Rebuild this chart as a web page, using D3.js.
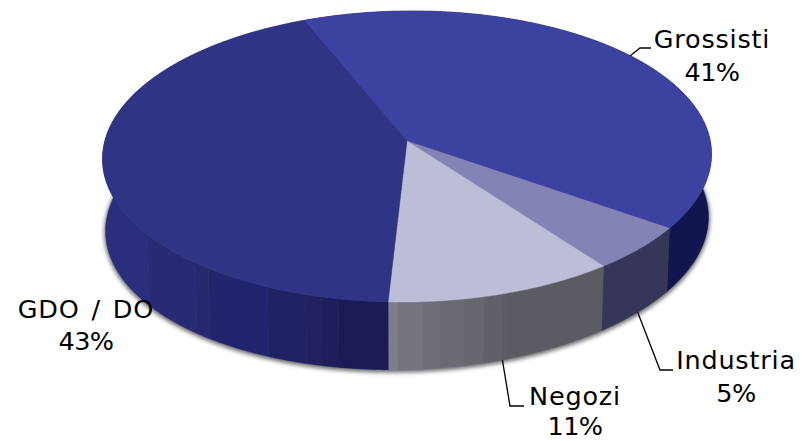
<!DOCTYPE html>
<html>
<head>
<meta charset="utf-8">
<script src="https://cdn.jsdelivr.net/npm/d3@7"></script>
<style>html,body{margin:0;padding:0;background:#fff}svg{display:block}</style>
</head>
<body>
<svg id="chart" width="807" height="441"></svg>
<script>
const categories = ["Grossisti", "Industria", "Negozi", "GDO / DO"];
const shares = [41, 5, 11, 43];
const topColours = ["#3c42a0", "#8383b6", "#bcbdd6", "#2f3484"];
const wallBreaks = [[], [], [162.5,163.4,166.8,170.3,174.4,177.3,181.5], [191.7,194.7,197.5,204.6,216.9,220,233.4]];
const wallColours = [["#12164f"], ["#363658"],
  ["#5b5b63","#5c5c66","#60606b","#66666f","#6a6a74","#6f6f7b","#757580","#7e7e8a"],
  ["#1a1a56","#1e1e5c","#20215e","#202264","#21256e","#27296f","#282b74","#2a2e7c"]];

const svg = d3.select("#chart");
const rad = Math.PI / 180;
const cx = 407, apexY = 141, A = 302.8, B = 143.9, k = 0.1065;
const topShear = -0.008, botShear = -0.0233;
const wallDX = 0.99, wallY = 208.5;

const project = t => {
  const u = Math.sin(t), v = -Math.cos(t), w = 1 - k * v;
  return [A * u / w, B * v / w];
};
const topPt = t => { const [x, y] = project(t); return [cx + x, apexY + y + topShear * x]; };
const botPt = t => { const [x, y] = project(t); return [cx + wallDX * x, wallY + y + botShear * x]; };
const arcAngles = (a, b) => {
  const n = Math.max(2, Math.ceil(Math.abs(b - a) / (0.5 * rad)));
  return d3.range(n + 1).map(i => a + (b - a) * i / n);
};
const line = d3.line();

const pie = d3.pie().sort(null).value(d => d)
  .startAngle(-22 * rad).endAngle(338 * rad);
const arcs = pie(shares);

const defs = svg.append("defs");
const blur = defs.append("filter").attr("id", "soft")
  .attr("x", "-5%").attr("y", "-5%").attr("width", "110%").attr("height", "115%");
blur.append("feGaussianBlur").attr("stdDeviation", 2);

// drop shadow under the whole cake
svg.append("path")
  .attr("d", line(arcAngles(0, 360 * rad).map(botPt)) + "Z")
  .attr("fill", "#444").attr("stroke", "#444").attr("stroke-width", 2.5).attr("opacity", 0.8)
  .attr("transform", "translate(0,1.5)")
  .attr("filter", "url(#soft)");

// side walls
const walls = svg.append("g");
arcs.forEach((d, i) => {
  const breaks = wallBreaks[i];
  const shade = d3.scaleThreshold().domain(breaks).range(wallColours[i]);
  const edges = [d.startAngle, ...breaks.map(b => b * rad), d.endAngle];
  d3.pairs(edges).forEach(([a, b]) => {
    const pts = arcAngles(a, b);
    const c = shade((a + b) / 2 / rad);
    walls.append("path")
      .attr("d", line([...pts.map(topPt), ...pts.slice().reverse().map(botPt)]) + "Z")
      .attr("fill", c).attr("stroke", c).attr("stroke-width", 0.4);
  });
});

// top face
svg.append("g").selectAll("path").data(arcs).join("path")
  .attr("d", d => line([[cx, apexY], ...arcAngles(d.startAngle, d.endAngle).map(topPt)]) + "Z")
  .attr("fill", (d, i) => topColours[i])
  .attr("stroke", (d, i) => topColours[i]).attr("stroke-width", 0.4);

// labels and leaders
const midAngle = d => (d.startAngle + d.endAngle) / 2;
const labelLayout = [
  { x: 712, y: 48, py: 80.5, rim: topPt, elbow: [640, 48], end: [651, 48] },
  { x: 736, y: 369, py: 402, rim: botPt, elbow: [660, 370], end: [673, 370] },
  { x: 575, y: 405, py: 435, rim: botPt, elbow: [510, 406], end: [524, 406] },
  { x: 86, y: 318, py: 350 }
];
const labels = svg.append("g").attr("font-family", "'DejaVu Sans', sans-serif")
  .attr("font-size", 25.5).attr("fill", "#000").attr("text-anchor", "middle");
arcs.forEach((d, i) => {
  const l = labelLayout[i];
  if (l.rim) {
    svg.append("path")
      .attr("d", line([l.rim(midAngle(d)), l.elbow, l.end]))
      .attr("fill", "none").attr("stroke", "#000").attr("stroke-width", 1.3);
  }
  labels.append("text").attr("x", l.x).attr("y", l.y)
    .attr("letter-spacing", 0.8).attr("word-spacing", 3).text(categories[i]);
  labels.append("text").attr("x", l.x).attr("y", l.py)
    .attr("letter-spacing", -0.6).text(shares[i] + "%");
});
</script>
</body>
</html>
